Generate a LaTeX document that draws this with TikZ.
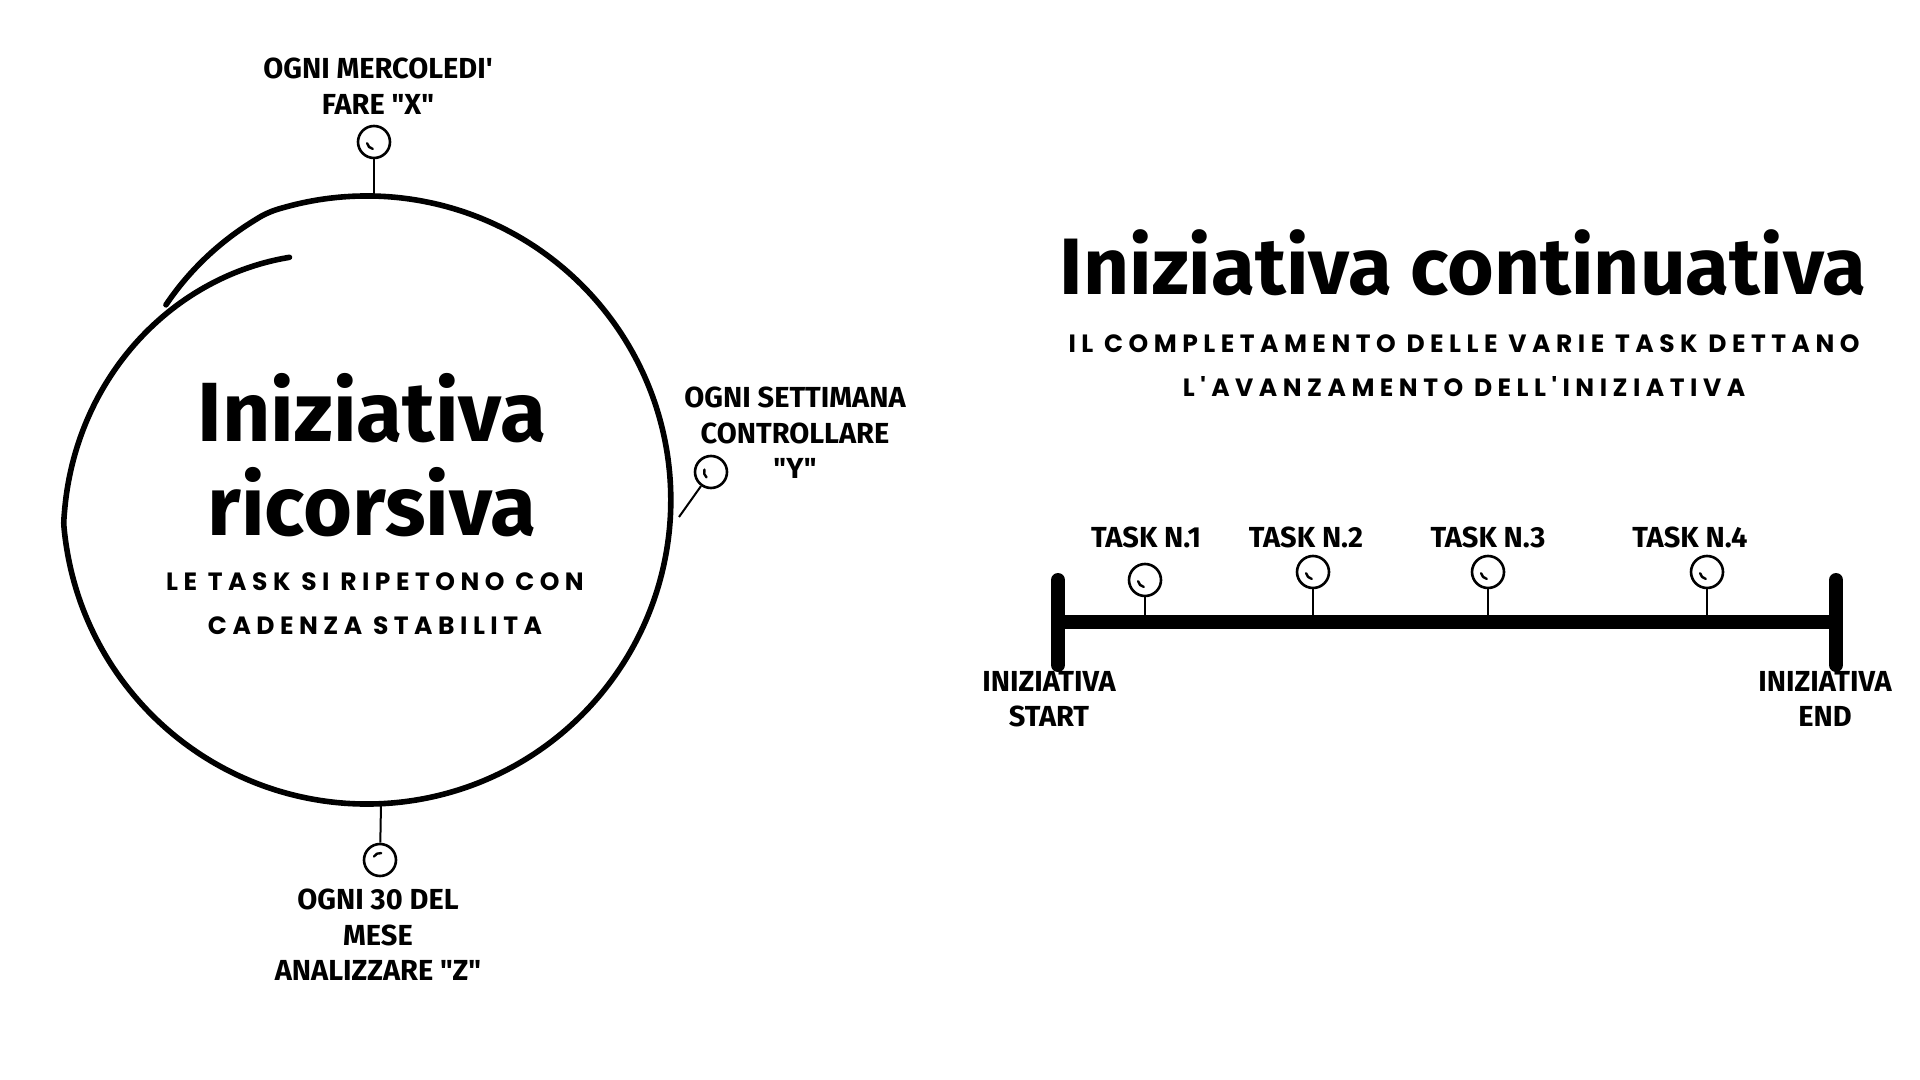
\documentclass[tikz,border=0pt]{standalone}
\usepackage{fontspec}
\setmainfont{Fira Sans}[Ligatures=TeXOff]
\newfontfamily\titlefont{Fira Sans}[Ligatures=TeXOff]
\newfontfamily\spacedfont{Poppins}[Ligatures=TeXOff,LetterSpace=22]
\usetikzlibrary{positioning}

\begin{document}
\begin{tikzpicture}[x=0.5pt,y=-0.5pt,line join=round,
	declare function={rr(\t)=304+6*cos(\t-150)-24*max(0,(250-\t)/27)-50*max(0,(\t-535)/77);},
	lbl/.style={align=center,inner sep=0pt,font=\fontsize{14.5}{17.8}\selectfont\bfseries},
	title/.style={align=center,inner sep=0pt,font=\fontsize{42}{47}\selectfont\titlefont\bfseries},
	spaced/.style={align=center,inner sep=0pt,font=\fontsize{12.5}{22}\selectfont\spacedfont\bfseries},
	bulb/.style={circle,draw,line width=1.3pt,minimum size=16pt,inner sep=0pt,fill=white,
		path picture={\draw [line width=1.2pt,line cap=round] ([shift={(#1:7)}]path picture bounding box.center) arc [start angle=#1,end angle=#1-70,radius=7];}},
	stem/.style={line width=1pt},
	bar/.style={line width=7pt,line cap=round}]
	\fill [white] (0,0) rectangle (1920,1080);
	\useasboundingbox (0,0) rectangle (1920,1080);

	\draw [line width=2.8pt,line cap=round] plot [domain=223:611,samples=180,smooth,variable=\t] ({372+rr(\t)*cos(\t)},{497+rr(\t)*sin(\t)});
	\coordinate (cX) at (374,196);
	\coordinate (cY) at (679,517);
	\coordinate (cZ) at (381,804);

	\node [title] (ric) at (372,455) {Iniziativa\\ricorsiva};
	\node [spaced] (ricsub) at (375,604) {LE TASK SI RIPETONO CON\\CADENZA STABILITA};

	\node [bulb=170] (pX) at (374,142) {};
	\node [bulb=200] (pY) at (711,472) {};
	\node [bulb=280] (pZ) at (380,860) {};
	\draw [stem] (pX) -- (cX);
	\draw [stem] (pY) -- (cY);
	\draw [stem] (cZ) -- (pZ);
	\node [lbl] (wed) at (378,86) {OGNI MERCOLEDI'\\FARE "X"};
	\node [lbl] (week) at (795,433) {OGNI SETTIMANA\\CONTROLLARE\\"Y"};
	\node [lbl] (month) at (378,935) {OGNI 30 DEL\\MESE\\ANALIZZARE "Z"};

	\node [title,font=\fontsize{40}{47}\selectfont\titlefont\bfseries] (cont) at (1463,263) {Iniziativa continuativa};
	\node [spaced] (contsub) at (1464,366) {IL COMPLETAMENTO DELLE VARIE TASK DETTANO\\L'AVANZAMENTO DELL'INIZIATIVA};

	\coordinate (start) at (1058,622);
	\coordinate (end) at (1836,622);
	\coordinate (startT) at (1058,580);
	\coordinate (startB) at (1058,665);
	\coordinate (endT) at (1836,580);
	\coordinate (endB) at (1836,665);
	\node [bulb=170] (t1) at (1145,580) {};
	\node [bulb=170] (t2) at (1313,572) {};
	\node [bulb=170] (t3) at (1488,572) {};
	\node [bulb=170] (t4) at (1707,572) {};
	\draw [stem] (t1) -- (1145,622);
	\draw [stem] (t2) -- (1313,622);
	\draw [stem] (t3) -- (1488,622);
	\draw [stem] (t4) -- (1707,622);
	\draw [line width=7pt] (start) -- (end);
	\draw [bar] (startT) -- (startB);
	\draw [bar] (endT) -- (endB);
	\node [lbl] (task1) at (1146,537) {TASK N.1};
	\node [lbl] (task2) at (1306,537) {TASK N.2};
	\node [lbl] (task3) at (1488,537) {TASK N.3};
	\node [lbl] (task4) at (1690,537) {TASK N.4};
	\node [lbl] (startlbl) at (1049,699) {INIZIATIVA\\START};
	\node [lbl] (endlbl) at (1825,699) {INIZIATIVA\\END};
\end{tikzpicture}
\end{document}
